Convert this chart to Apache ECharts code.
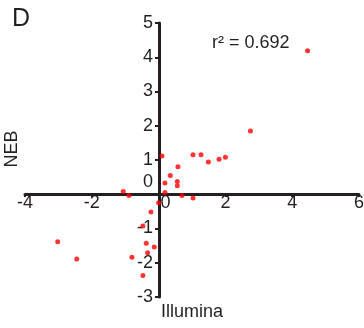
<!DOCTYPE html>
<html>
<head>
<meta charset="utf-8">
<script src="https://cdn.jsdelivr.net/npm/echarts@6/dist/echarts.min.js"></script>
<style>
html, body { margin: 0; padding: 0; background: #fff; }
#chart { width: 364px; height: 328px; }
</style>
</head>
<body>
<div id="chart"></div>
<script>
// Illumina (x) vs NEB (y) log ratios
var illumina = [4.46, 2.75, 0.10, 1.03, 1.27, 1.49, 1.81, 2.00, 0.58, 0.35, 0.19, 0.56, 0.56, 0.19,
    -1.06, -0.89, 0.70, 1.03, 0.00, -0.23, -0.47, -3.02, -0.37, -0.13, -0.33, -0.80, -2.45, -0.47];
var neb = [4.19, 1.85, 1.12, 1.15, 1.15, 0.94, 1.02, 1.08, 0.80, 0.55, 0.33, 0.37, 0.25, 0.05,
    0.08, -0.04, -0.04, -0.11, -0.25, -0.52, -0.93, -1.39, -1.43, -1.54, -1.71, -1.84, -1.89, -2.37];
var panelLabel = 'D';
var rsqText = 'r\u00b2 = 0.692';

var points = [];
for (var i = 0; i < illumina.length; i++) {
    points.push([illumina[i], neb[i]]);
}

var font = "'Liberation Sans', Arial, sans-serif";
var ink = '#231f20';

var chart = echarts.init(document.getElementById('chart'));

// axes cross at (0,0): grid is 334 x 274, zero sits 134 px from the left and 103 px above the bottom
var option = {
    animation: false,
    grid: {left: 25, right: 5, top: 23, bottom: 31, containLabel: false, outerBoundsMode: 'none'},
    xAxis: {
        type: 'value', min: -4, max: 6, interval: 2,
        offset: -103,
        name: 'Illumina', nameLocation: 'middle', nameGap: 109,
        nameTextStyle: {color: ink, fontSize: 18, fontFamily: font},
        axisLine: {onZero: false, lineStyle: {color: ink, width: 3}},
        axisTick: {length: 3, lineStyle: {color: ink, width: 2}},
        axisLabel: {
            color: ink, fontSize: 18, fontFamily: font, margin: 0,
            formatter: function (v) { return v === 0 ? '{z|0}' : String(v); },
            rich: {z: {color: ink, fontSize: 18, fontFamily: font, padding: [0, 0, 0, 14]}}
        },
        splitLine: {show: false}
    },
    yAxis: {
        type: 'value', min: -3, max: 5, interval: 1,
        offset: -134,
        name: 'NEB', nameLocation: 'middle', nameGap: 138,
        nameTextStyle: {color: ink, fontSize: 18, fontFamily: font, padding: [0, 0, 0, 22]},
        axisLine: {onZero: false, lineStyle: {color: ink, width: 3}},
        axisTick: {length: 4, lineStyle: {color: ink, width: 2}},
        axisLabel: {
            color: ink, fontSize: 18, fontFamily: font, margin: 6,
            formatter: function (v) { return v === 0 ? '{z|0}' : String(v); },
            rich: {z: {color: ink, fontSize: 18, fontFamily: font, padding: [0, 0, 24, 0]}}
        },
        splitLine: {show: false}
    },
    graphic: [
        {type: 'text', left: 12, top: 7, style: {text: panelLabel, fill: ink, fontSize: 25, fontFamily: font}},
        {type: 'text', left: 212, top: 34, style: {text: rsqText, fill: ink, fontSize: 18, fontFamily: font}}
    ],
    series: [{
        type: 'scatter',
        data: points,
        symbolSize: 5,
        itemStyle: {color: '#ff0000'}
    }]
};

chart.setOption(option);
</script>
</body>
</html>
